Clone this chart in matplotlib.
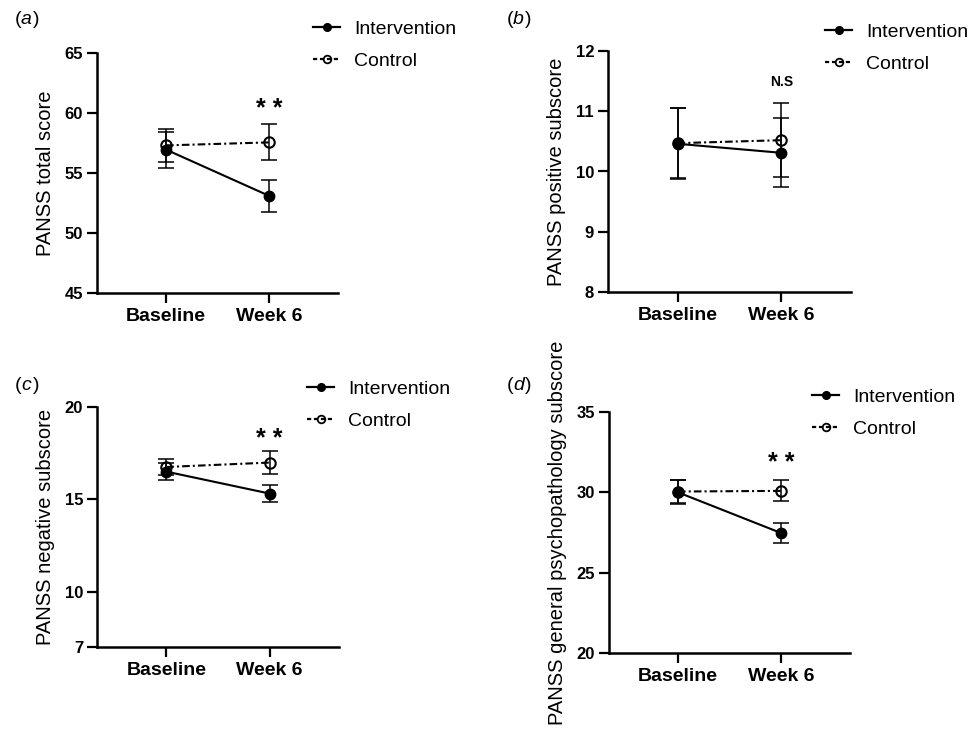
import numpy as np
import matplotlib
matplotlib.use('Agg')
import matplotlib.pyplot as plt
from matplotlib.lines import Line2D

plt.rcParams['font.family'] = ['Liberation Sans', 'DejaVu Sans']
plt.rcParams['lines.scale_dashes'] = False

# data (mean and error half-width)
times = ['Baseline', 'Week 6']

a_int = [56.95, 53.1]
a_int_err = [1.5, 1.35]
a_ctl = [57.3, 57.55]
a_ctl_err = [1.4, 1.5]

b_int = [10.46, 10.31]
b_int_err = [0.59, 0.57]
b_ctl = [10.47, 10.52]
b_ctl_err = [0.58, 0.61]

c_int = [16.5, 15.31]
c_int_err = [0.45, 0.47]
c_ctl = [16.75, 16.99]
c_ctl_err = [0.45, 0.6]

d_int = [30.0, 27.47]
d_int_err = [0.75, 0.65]
d_ctl = [30.05, 30.09]
d_ctl_err = [0.7, 0.65]

panels = [
    dict(tag='a', ylabel='PANSS total score', yint=a_int, eint=a_int_err, yctl=a_ctl, ectl=a_ctl_err,
         ylim=(45, 65), yticks=[45, 50, 55, 60, 65], note='**', note_y=60.65),
    dict(tag='b', ylabel='PANSS positive subscore', yint=b_int, eint=b_int_err, yctl=b_ctl, ectl=b_ctl_err,
         ylim=(8, 12), yticks=[8, 9, 10, 11, 12], note='N.S', note_y=11.49),
    dict(tag='c', ylabel='PANSS negative subscore', yint=c_int, eint=c_int_err, yctl=c_ctl, ectl=c_ctl_err,
         ylim=(7, 20), yticks=[7, 10, 15, 20], note='**', note_y=18.47),
    dict(tag='d', ylabel='PANSS general psychopathology subscore', yint=d_int, eint=d_int_err, yctl=d_ctl,
         ectl=d_ctl_err, ylim=(20, 35), yticks=[20, 25, 30, 35], note='**', note_y=32.07),
]

W, H = 979, 735
# axes rectangles in pixels: left, top, right, bottom
rects = [(97, 53, 338, 293), (608, 51, 851, 292), (97, 407, 339, 647), (609, 412, 850, 653)]
tag_pos = [(15, 20), (507, 20), (15, 386), (507, 386)]
legend_pos = [(313, 20), (825, 23), (307, 380), (812, 388)]

fig = plt.figure(figsize=(W / 100, H / 100), dpi=100)

dash_dot = (0, (5.5, 2.2, 1.5, 2.2))
x = np.arange(len(times))

for p, r, tp, lp in zip(panels, rects, tag_pos, legend_pos):
    l, t, rr, b = r
    ax = fig.add_axes([l / W, 1 - b / H, (rr - l) / W, (b - t) / H])

    ax.errorbar(x, p['yint'], yerr=p['eint'], fmt='none', ecolor='black', elinewidth=1.1,
                capsize=5.5, capthick=1.1, zorder=2)
    ax.errorbar(x, p['yctl'], yerr=p['ectl'], fmt='none', ecolor='black', elinewidth=1.1,
                capsize=5.5, capthick=1.1, zorder=2)
    ax.plot(x, p['yint'], color='black', lw=1.5, marker='o', ms=7.5,
            mfc='black', mec='black', zorder=3, label='Intervention')
    ax.plot(x, p['yctl'], color='black', lw=1.5, ls=dash_dot, marker='o', ms=7.5,
            mfc='none', mec='black', mew=1.5, zorder=4, label='Control')

    ax.set_xlim(-0.67, 1.67)
    ax.set_ylim(*p['ylim'])
    ax.set_yticks(p['yticks'])
    ax.set_xticks(x)
    ax.set_xticklabels(times, fontsize=14, fontweight='bold')
    for lab in ax.get_yticklabels():
        lab.set_fontsize(12)
        lab.set_fontweight('bold')
    ax.tick_params(axis='both', direction='out', length=7, width=1.6, color='black', pad=3)
    ax.tick_params(axis='x', pad=4)
    for s in ['top', 'right']:
        ax.spines[s].set_visible(False)
    for s in ['left', 'bottom']:
        ax.spines[s].set_linewidth(1.8)
    ax.set_ylabel(p['ylabel'], fontsize=14.5, labelpad=7)

    # significance marks above Week 6
    if p['note'] == '**':
        fs = 18
        ax.annotate('* *', xy=(1, p['note_y']), xytext=(0, -0.44 * fs), textcoords='offset points',
                    ha='center', va='baseline', fontsize=fs, fontweight='bold')
    else:
        ax.text(1, p['note_y'], p['note'], ha='center', va='center', fontsize=10, fontweight='bold')

    fig.text(tp[0] / W, 1 - tp[1] / H, '(', fontsize=14, va='center', ha='left')
    fig.text((tp[0] + 6) / W, 1 - tp[1] / H, p['tag'], fontsize=14, style='italic', va='center', ha='left')
    fig.text((tp[0] + 18) / W, 1 - tp[1] / H, ')', fontsize=14, va='center', ha='left')

    hi = Line2D([], [], color='black', lw=1.6, marker='o', ms=5.5, mfc='black', mec='black')
    hc = Line2D([], [], color='black', lw=1.6, ls=(0, (3, 2)), marker='o', ms=5.5,
                mfc='none', mec='black', mew=1.3)
    ax.legend([hi, hc], ['Intervention', 'Control'], loc='upper left',
              bbox_to_anchor=(lp[0] / W, 1 - lp[1] / H), bbox_transform=fig.transFigure,
              frameon=False, fontsize=14, handlelength=1.4, handletextpad=0.7,
              labelspacing=0.75, borderpad=0, borderaxespad=0)

fig.savefig('out.png', dpi=100)
plt.close(fig)
